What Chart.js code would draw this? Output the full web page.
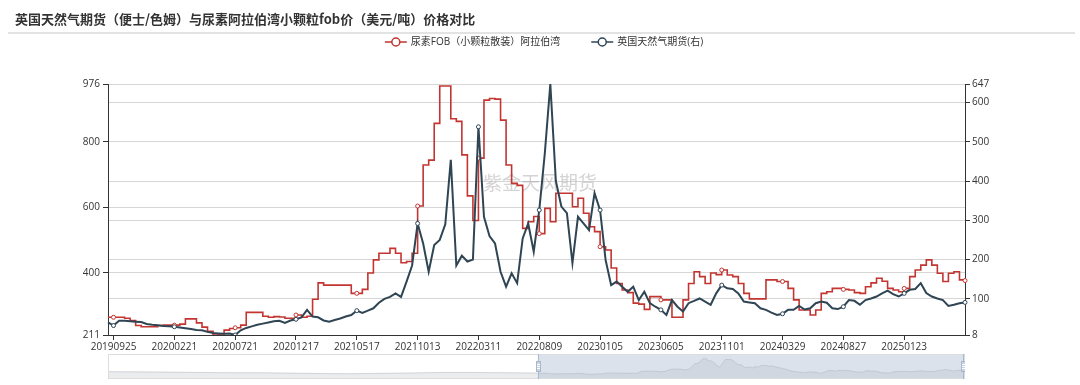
<!DOCTYPE html>
<html>
<head>
<meta charset="utf-8">
<script src="https://cdn.jsdelivr.net/npm/chart.js@4.4.1/dist/chart.umd.min.js"></script>
<style>
  html, body { margin: 0; padding: 0; background: #fff; }
  #wrap { position: relative; width: 1080px; height: 385px; overflow: hidden; }
  #title { position: absolute; left: 8px; right: 5px; top: 0; height: 34px; box-sizing: border-box;
           border-bottom: 2px solid #e3e3e3; }
  #title span { position: absolute; left: 7px; top: 9px; font: bold 13px "Noto Sans CJK SC", sans-serif; color: #333; }
  #main { position: absolute; left: 0; top: 0; }
  #zoom { position: absolute; left: 108px; top: 354px; }
</style>
</head>
<body>
<div id="wrap">
  <canvas id="main" width="1080" height="385"></canvas>
  <canvas id="zoom" width="857" height="25"></canvas>
  <div id="title"><span>英国天然气期货（便士/色姆）与尿素阿拉伯湾小颗粒fob价（美元/吨）价格对比</span></div>
</div>
<script>
// tick dates shown on the x axis, one every STEP points
var tickDates = ['20190925', '20200221', '20200721', '20201217', '20210517', '20211013', '20220311',
                 '20220809', '20230105', '20230605', '20231101', '20240329', '20240827', '20250123'];
var STEP = 11;

// 尿素FOB（小颗粒散装）阿拉伯湾, USD/t (left axis)
var urea = [
  265, 265, 265, 262, 255, 240, 236, 236, 236, 240,
  241, 241, 241, 244, 260, 260, 248, 235, 222, 211,
  214, 226, 231, 233, 241, 280, 280, 280, 268, 265,
  267, 266, 262, 262, 272, 265, 268, 320, 370, 363,
  363, 363, 363, 363, 338, 338, 350, 400, 440, 460,
  460, 475, 460, 431, 435, 460, 604, 729, 744, 856,
  970, 970, 870, 862, 760, 635, 560, 750, 927, 932,
  930, 866, 729, 673, 667, 536, 556, 572, 520, 597,
  556, 643, 643, 643, 602, 628, 582, 541, 526, 480,
  470, 415, 368, 348, 340, 308, 305, 289, 328, 328,
  318, 318, 265, 265, 318, 368, 404, 389, 368, 400,
  395, 409, 394, 389, 368, 338, 321, 321, 321, 379,
  379, 374, 374, 353, 318, 287, 287, 272, 287, 338,
  343, 353, 353, 350, 348, 340, 338, 358, 370, 384,
  375, 353, 348, 343, 353, 389, 409, 424, 440, 424,
  399, 374, 399, 404, 379, 377
];

// 英国天然气期货, pence/therm (right axis)
var gas = [
  40, 32, 44, 44, 43, 42, 41, 36, 34, 33,
  31, 30, 29, 27, 25, 23, 21, 20, 16, 13,
  12, 11, 12, 8, 20, 26, 30, 34, 37, 40,
  43, 44, 39, 45, 48, 53, 72, 55, 53, 45,
  42, 46, 50, 55, 59, 70, 64, 70, 76, 90,
  100, 105, 114, 105, 144, 185, 292, 241, 169, 237,
  250, 290, 454, 185, 210, 195, 200, 538, 309, 260,
  241, 169, 131, 165, 140, 254, 292, 220, 326, 470,
  647, 400, 335, 318, 191, 309, 292, 275, 369, 326,
  199, 135, 144, 131, 118, 131, 97, 118, 89, 80,
  72, 59, 97, 80, 68, 89, 95, 101, 93, 85,
  114, 135, 127, 125, 114, 93, 91, 89, 76, 72,
  65, 59, 62, 72, 72, 82, 73, 76, 89, 93,
  90, 76, 74, 80, 97, 95, 85, 97, 101, 106,
  114, 121, 112, 106, 114, 123, 125, 140, 115, 106,
  101, 97, 82, 85, 89, 91
];

// earlier urea history shown only in the zoom slider (one value every STEP points)
var zoomHistory = [340, 330, 320, 300, 290, 290, 270, 250, 240, 260, 280, 300, 300, 290, 280];

var leftTicks = [211, 400, 600, 800, 976];
var rightTicks = [8, 100, 200, 300, 400, 500, 600, 647];

var RED = '#c23531';
var DARK = '#2f4554';
var FONT = '"Open Sans", "Noto Sans CJK SC", sans-serif';

function parseD(s) {
  return new Date(Date.UTC(+s.slice(0, 4), +s.slice(4, 6) - 1, +s.slice(6, 8)));
}
function fmtD(d) {
  var m = d.getUTCMonth() + 1, day = d.getUTCDate();
  return d.getUTCFullYear() + (m < 10 ? '0' : '') + m + (day < 10 ? '0' : '') + day;
}

// category labels: the tick dates sit at index 1, 12, 23, ...
var dates = [];
for (var i = 0; i < urea.length; i++) {
  var k = Math.floor((i - 1) / STEP);
  k = Math.max(0, Math.min(k, tickDates.length - 2));
  var a = parseD(tickDates[k]), b = parseD(tickDates[k + 1]);
  var t = (i - 1 - k * STEP) / STEP;
  dates.push(fmtD(new Date(a.getTime() + Math.round((b - a) * t / 86400000) * 86400000)));
}

var watermark = {
  id: 'watermark',
  beforeDatasetsDraw: function(chart) {
    var ctx = chart.ctx;
    ctx.save();
    ctx.font = '19px "Noto Sans CJK SC", sans-serif';
    ctx.fillStyle = 'rgba(160,160,160,0.45)';
    ctx.textAlign = 'center';
    ctx.textBaseline = 'middle';
    ctx.fillText('紫金天风期货', 540, 183);
    ctx.restore();
  }
};

var legendItems = [
  { text: '尿素FOB（小颗粒散装）阿拉伯湾', color: RED },
  { text: '英国天然气期货(右)', color: DARK }
];

var lineLegend = {
  id: 'lineLegend',
  afterDraw: function(chart) {
    var ctx = chart.ctx;
    var iconW = 22, gapIcon = 4, gapItem = 31, y = 42;
    ctx.save();
    ctx.font = '10px ' + FONT;
    var total = 0;
    legendItems.forEach(function(it, n) {
      it.w = ctx.measureText(it.text).width;
      total += iconW + gapIcon + it.w + (n ? gapItem : 0);
    });
    var x = 544 - total / 2;
    legendItems.forEach(function(it) {
      ctx.strokeStyle = it.color;
      ctx.lineWidth = 1.5;
      ctx.beginPath();
      ctx.moveTo(x, y);
      ctx.lineTo(x + iconW, y);
      ctx.stroke();
      ctx.beginPath();
      ctx.arc(x + iconW / 2, y, 4, 0, Math.PI * 2);
      ctx.fillStyle = '#fff';
      ctx.fill();
      ctx.stroke();
      ctx.fillStyle = '#333';
      ctx.textBaseline = 'middle';
      ctx.fillText(it.text, x + iconW + gapIcon, y + 0.5);
      x += iconW + gapIcon + it.w + gapItem;
    });
    ctx.restore();
  }
};

function markRadius(c) {
  return c.dataIndex % STEP === 1 ? 2 : 0;
}

new Chart(document.getElementById('main'), {
  type: 'line',
  data: {
    labels: dates,
    datasets: [
      {
        label: '尿素FOB（小颗粒散装）阿拉伯湾',
        data: urea,
        yAxisID: 'y',
        borderColor: RED,
        borderWidth: 1.6,
        stepped: true,
        pointRadius: markRadius,
        pointBackgroundColor: '#fff',
        pointBorderColor: RED,
        pointBorderWidth: 1,
        order: 1
      },
      {
        label: '英国天然气期货(右)',
        data: gas,
        yAxisID: 'y1',
        borderColor: DARK,
        borderWidth: 2,
        tension: 0,
        pointRadius: markRadius,
        pointBackgroundColor: '#fff',
        pointBorderColor: DARK,
        pointBorderWidth: 1,
        order: 0
      }
    ]
  },
  options: {
    responsive: false,
    animation: false,
    events: [],
    layout: { padding: { top: 84, left: 0, right: 0, bottom: 0 } },
    plugins: { legend: { display: false }, tooltip: { enabled: false } },
    scales: {
      x: {
        type: 'category',
        offset: false,
        afterFit: function(s) { s.height = 50; },
        afterBuildTicks: function(s) {
          s.ticks = s.ticks.filter(function(tk) {
            return tk.value % STEP === 1 && (tk.value - 1) / STEP < tickDates.length;
          });
        },
        ticks: {
          autoSkip: false, maxRotation: 0, minRotation: 0, padding: 1,
          color: '#333', font: { size: 10, family: FONT }
        },
        grid: { display: true, drawOnChartArea: false, drawTicks: true, tickLength: 5, tickColor: '#333', offset: false },
        border: { display: true, color: '#333' }
      },
      y: {
        position: 'left',
        min: 211, max: 976,
        afterFit: function(s) { s.width = 108; },
        afterBuildTicks: function(s) {
          s.ticks = leftTicks.map(function(v) { return { value: v }; });
        },
        ticks: { padding: 3, color: '#333', font: { size: 10, family: FONT } },
        grid: { color: '#d6d6d6', tickColor: '#333', tickLength: 5 },
        border: { display: true, color: '#333' }
      },
      y1: {
        position: 'right',
        min: 8, max: 647,
        afterFit: function(s) { s.width = 115; },
        afterBuildTicks: function(s) {
          s.ticks = rightTicks.map(function(v) { return { value: v }; });
        },
        ticks: { padding: 2, color: '#333', font: { size: 10, family: FONT } },
        grid: { color: '#d6d6d6', tickColor: '#333', tickLength: 5 },
        border: { display: true, color: '#333' }
      }
    }
  },
  plugins: [watermark, lineLegend]
});

// zoom slider: full urea history, right half selected
var zoomPoints = zoomHistory.map(function(v, n) { return { x: n * STEP, y: v }; })
  .concat(urea.map(function(v, n) { return { x: urea.length + n, y: v }; }));
var zLo = Math.min.apply(null, zoomHistory.concat(urea));
var zHi = Math.max.apply(null, zoomHistory.concat(urea));
var zOff = (zHi - zLo) * 0.3;

var sliderDeco = {
  id: 'sliderDeco',
  afterDraw: function(chart) {
    var ctx = chart.ctx, a = chart.chartArea;
    var xs = chart.scales.x.getPixelForValue(urea.length);
    ctx.save();
    ctx.fillStyle = 'rgba(167,183,204,0.4)';
    ctx.fillRect(xs, a.top, a.right - xs, a.bottom - a.top);
    ctx.strokeStyle = '#ddd';
    ctx.lineWidth = 1;
    ctx.strokeRect(a.left + 0.5, a.top + 0.5, a.right - a.left - 1, a.bottom - a.top - 1);
    [xs, a.right - 2].forEach(function(hx) {
      ctx.strokeStyle = '#a7b7cc';
      ctx.beginPath();
      ctx.moveTo(Math.round(hx) + 0.5, a.top);
      ctx.lineTo(Math.round(hx) + 0.5, a.bottom);
      ctx.stroke();
      ctx.fillStyle = '#c9d3e0';
      ctx.fillRect(Math.round(hx) - 2, 7, 5, 11);
      ctx.strokeRect(Math.round(hx) - 2 + 0.5, 7.5, 4, 10);
      ctx.beginPath();
      [10.5, 12.5, 14.5].forEach(function(yy) {
        ctx.moveTo(Math.round(hx) - 1, yy);
        ctx.lineTo(Math.round(hx) + 2, yy);
      });
      ctx.strokeStyle = '#fff';
      ctx.stroke();
    });
    ctx.restore();
  }
};

new Chart(document.getElementById('zoom'), {
  type: 'line',
  data: {
    datasets: [{
      data: zoomPoints,
      borderColor: 'rgba(47,69,84,0.3)',
      borderWidth: 0.6,
      backgroundColor: 'rgba(47,69,84,0.1)',
      fill: 'start',
      pointRadius: 0,
      tension: 0
    }]
  },
  options: {
    responsive: false,
    animation: false,
    events: [],
    layout: { padding: 0 },
    plugins: { legend: { display: false }, tooltip: { enabled: false } },
    scales: {
      x: { type: 'linear', min: 0, max: urea.length * 2 - 1, display: false },
      y: { min: zLo - zOff, max: zHi + zOff, display: false }
    }
  },
  plugins: [sliderDeco]
});
</script>
</body>
</html>
